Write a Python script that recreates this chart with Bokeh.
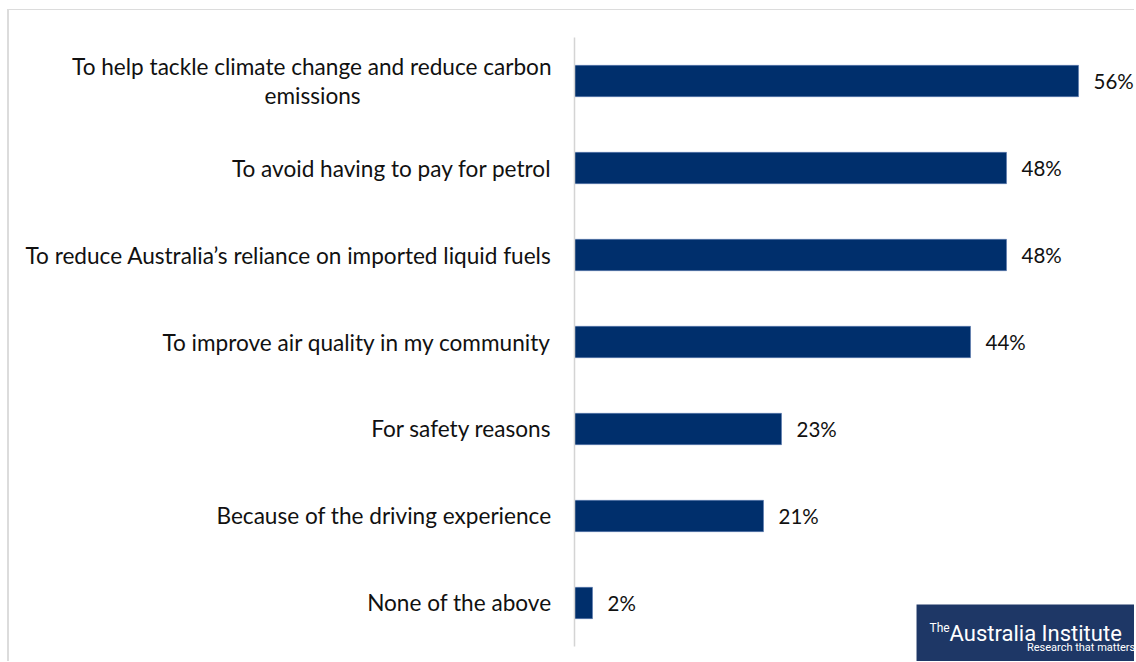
from bokeh.plotting import figure
from bokeh.models import Range1d, FactorRange, BoxAnnotation, Label, ColumnDataSource
from bokeh.embed import file_html
from bokeh.resources import INLINE
from bokeh.core.properties import value

NBSP = "\u00a0"
categories = [
    "To help tackle climate change and reduce carbon\nemissions" + NBSP * 33,
    "To avoid having to pay for petrol",
    "To reduce Australia\u2019s reliance on imported liquid fuels",
    "To improve air quality in my community",
    "For safety reasons",
    "Because of the driving experience",
    "None of the above",
]
values = [56, 48, 48, 44, 23, 21, 2]
value_labels = [f"{v}%" for v in values]

FONT = "Lato"
BAR = "#002f6c"

src = ColumnDataSource(dict(cat=categories, val=values, lab=value_labels))

p = figure(
    width=1127, height=652,
    y_range=FactorRange(factors=categories[::-1], range_padding=0.184,
                        range_padding_units="absolute"),
    x_range=Range1d(0, 62.44),
    output_backend="svg", toolbar_location=None,
    min_border_left=565, min_border_right=0, min_border_top=11, min_border_bottom=0,
)
p.styles = {"margin-left": "7px", "margin-top": "9px",
            "border-top": "1px solid #dcdcdc", "border-left": "2px solid #dcdcdc"}
p.outline_line_color = None
p.xaxis.visible = False
p.xgrid.visible = False
p.ygrid.visible = False

ax = p.yaxis[0]
ax.bounds = (0, len(categories))
ax.axis_line_color = "#d4d4d4"
ax.axis_line_width = 1.5
ax.major_tick_line_color = None
ax.minor_tick_line_color = None
ax.major_label_standoff = 17
ax.major_label_text_font = FONT
ax.major_label_text_font_size = "22.6px"
ax.major_label_text_color = "#111111"
ax.major_label_text_line_height = 1.1

p.hbar(y="cat", right="val", left=0, height=0.36, source=src,
       fill_color=BAR, line_color="#5a7bb0", line_width=0.6)
p.text(x="val", y="cat", text="lab", source=src, x_offset=15,
       text_align="left", text_baseline="middle",
       text_font=value(FONT), text_font_size="20.5px", text_color="#111111")

# logo
logo = BoxAnnotation(left=38.0, right=63.0, top=0.483, bottom=-0.3,
                     fill_color="#1e3766", fill_alpha=1.0, line_color=None)
p.add_layout(logo)
p.add_layout(Label(x=39.44, y=0.207, text="The", text_font="Roboto",
                   text_font_size="12px", text_color="white",
                   text_baseline="alphabetic", text_align="left"))
p.add_layout(Label(x=41.67, y=0.149, text="Australia Institute", text_font="Roboto",
                   text_font_size="22px", text_color="white",
                   text_baseline="alphabetic", text_align="left"))
p.add_layout(Label(x=62.3, y=-0.011, text="Research that matters", text_font="Roboto",
                   text_font_size="11px", text_color="white",
                   text_baseline="alphabetic", text_align="right"))

open("out.html", "w").write(file_html(p, INLINE))
